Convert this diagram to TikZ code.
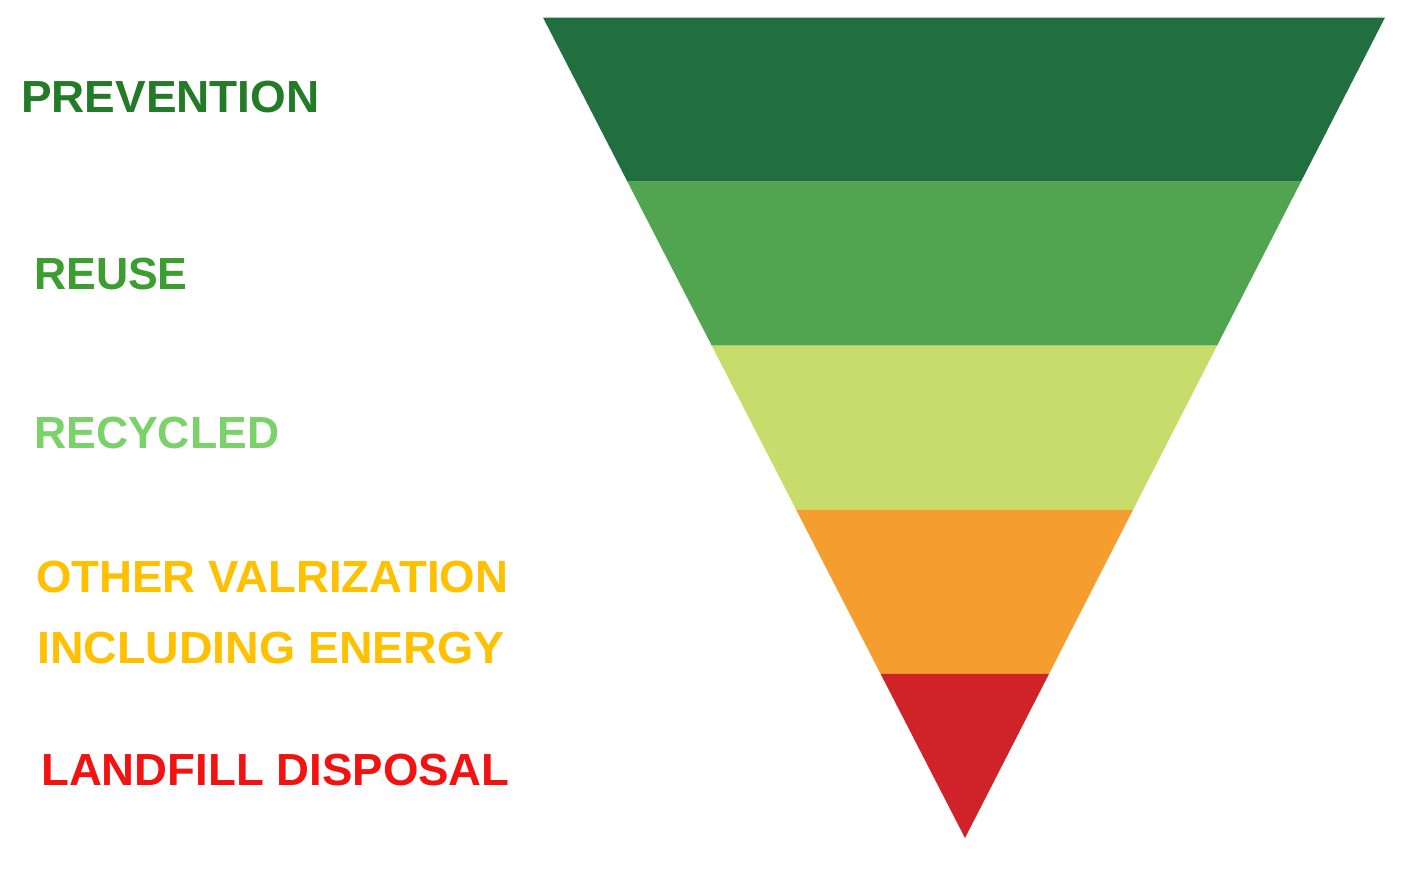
\documentclass[tikz,border=0pt]{standalone}
\usepackage{fontspec}
\setmainfont{Liberation Sans}
\usetikzlibrary{calc}
\definecolor{bandA}{HTML}{216F3E}
\definecolor{bandB}{HTML}{52A550}
\definecolor{bandC}{HTML}{C8DC6B}
\definecolor{bandD}{HTML}{F59D2E}
\definecolor{bandE}{HTML}{CF2229}
\definecolor{txtA}{HTML}{237A27}
\definecolor{txtB}{HTML}{3C9D30}
\definecolor{txtC}{HTML}{7BD26A}
\definecolor{txtD}{HTML}{FFC000}
\definecolor{txtE}{HTML}{F21212}
\tikzset{
  lbl/.style={anchor=base west, inner sep=0pt, font=\fontsize{45}{50}\selectfont\bfseries},
}
\begin{document}
\begin{tikzpicture}[x=1pt,y=-1pt]
\useasboundingbox[fill=white] (0,0) rectangle (1413,868);
\coordinate (TL) at (543,17.5);
\coordinate (TR) at (1385,17.5);
\coordinate (AP) at (965,838);
\foreach \k in {0,1,2,3,4}{
  \coordinate (L\k) at ($(TL)!{\k/5}!(AP)$);
  \coordinate (R\k) at ($(TR)!{\k/5}!(AP)$);
}
\fill[bandA] (L0) -- (R0) -- (R1) -- (L1) -- cycle;
\fill[bandB] (L1) -- (R1) -- (R2) -- (L2) -- cycle;
\fill[bandC] (L2) -- (R2) -- (R3) -- (L3) -- cycle;
\fill[bandD] (L3) -- (R3) -- (R4) -- (L4) -- cycle;
\fill[bandE] (L4) -- (R4) -- (AP) -- cycle;
\node[lbl, text=txtA] (prev) at (21,112) {\scalebox{1.02}[1]{PREVENTION}};
\node[lbl, text=txtB] (reuse) at (34,289) {\scalebox{0.99}[1]{REUSE}};
\node[lbl, text=txtC] (recy) at (34,448) {\scalebox{0.99}[1]{RECYCLED}};
\node[lbl, text=txtD] (oth1) at (36,592) {\scalebox{1.013}[1]{OTHER VALRIZATION}};
\node[lbl, text=txtD] (oth2) at (37,663) {\scalebox{1.033}[1]{INCLUDING ENERGY}};
\node[lbl, text=txtE] (land) at (41,785) {\scalebox{1.013}[1]{LANDFILL DISPOSAL}};
\end{tikzpicture}
\end{document}
